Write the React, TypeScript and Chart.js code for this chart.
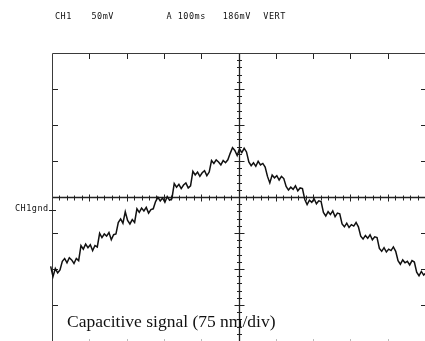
import React, { useEffect, useRef } from 'react';
import { Chart, registerables } from 'chart.js';

Chart.register(...registerables);

// ---- text content ----
const headerTexts = ['CH1', '50mV', 'A 100ms', '186mV', 'VERT'];
const groundLabel = 'CH1gnd';
const caption = 'Capacitive signal (75 nm/div)';

// ---- scope settings ----
const msPerDiv = 100;
const mvPerDiv = 50;
const horizDivs = 10;
const vertDivs = 8;

// ---- sampled trace (mV), one sample every sampleIntervalMs ----
const sampleStartMs = -512.5;
const sampleIntervalMs = 6.25;
const traceMv = [
  -106, -95, -109, -98, -104, -100,
  -88, -84, -90, -83, -86, -91, -84, -87,
  -66, -71, -64, -69, -65, -73, -66, -68,
  -49, -55, -50, -53, -48, -58, -51, -50,
  -34, -29, -35, -19, -31, -36, -30, -34,
  -15, -20, -14, -18, -13, -21, -16, -15,
  -5, 1, -4, 0, -6, 2, -3, -1,
  20, 15, 19, 13, 18, 21, 14, 17,
  37, 32, 36, 30, 35, 38, 31, 36,
  52, 48, 53, 50, 46, 52, 49, 53,
  62, 70, 66, 59, 68, 63, 69, 64,
  50, 45, 49, 44, 51, 46, 48, 43,
  30, 21, 32, 28, 31, 25, 30, 27,
  16, 11, 15, 12, 17, 10, 14, 13,
  -2, -9, -3, -6, -1, -8, -4, -5,
  -20, -25, -19, -23, -18, -26, -21, -22,
  -36, -40, -35, -41, -37, -39, -34, -40,
  -53, -57, -52, -56, -51, -58, -54, -55,
  -70, -74, -69, -75, -71, -73, -68, -74,
  -87, -92, -86, -90, -88, -93, -87, -89,
  -103, -108, -102, -107, -104,
];

const W = 425;
const H = 341;

const graticulePlugin = {
  id: 'graticule',
  beforeDatasetsDraw(chart: any) {
    const { ctx, scales } = chart;
    const xs = scales.x;
    const ys = scales.y;
    const halfX = (horizDivs / 2) * msPerDiv;
    const halfY = (vertDivs / 2) * mvPerDiv;
    const L = xs.getPixelForValue(-halfX);
    const R = xs.getPixelForValue(halfX);
    const T = ys.getPixelForValue(halfY);
    const B = ys.getPixelForValue(-halfY);
    const cx = xs.getPixelForValue(0);
    const cy = ys.getPixelForValue(0);
    ctx.save();
    ctx.lineCap = 'butt';
    // frame
    ctx.strokeStyle = '#3a3a3a';
    ctx.lineWidth = 1;
    ctx.beginPath();
    ctx.moveTo(Math.round(L) - 0.5, Math.round(B));
    ctx.lineTo(Math.round(L) - 0.5, Math.round(T) - 0.5);
    ctx.lineTo(Math.round(R), Math.round(T) - 0.5);
    ctx.lineTo(Math.round(R), Math.round(B));
    ctx.stroke();
    // border ticks
    ctx.strokeStyle = '#222';
    ctx.beginPath();
    for (let k = -horizDivs / 2 + 1; k < horizDivs / 2; k++) {
      const px = Math.round(xs.getPixelForValue(k * msPerDiv)) - 0.5;
      ctx.moveTo(px, T);
      ctx.lineTo(px, T + 5);
    }
    for (let k = -vertDivs / 2 + 1; k < vertDivs / 2; k++) {
      const py = Math.round(ys.getPixelForValue(k * mvPerDiv)) - 0.5;
      ctx.moveTo(L, py);
      ctx.lineTo(L + 5, py);
      ctx.moveTo(R, py);
      ctx.lineTo(R - 5, py);
    }
    ctx.stroke();
    // bottom ticks (barely inside the picture)
    ctx.strokeStyle = '#bbb';
    ctx.beginPath();
    for (let k = -horizDivs / 2 + 1; k < horizDivs / 2; k++) {
      if (k === 0) continue;
      const px = Math.round(xs.getPixelForValue(k * msPerDiv)) - 0.5;
      ctx.moveTo(px, B);
      ctx.lineTo(px, B - 3);
    }
    ctx.stroke();
    // center axes
    ctx.strokeStyle = '#222';
    ctx.lineWidth = 1.3;
    ctx.beginPath();
    ctx.moveTo(L, Math.round(cy) - 0.5);
    ctx.lineTo(R, Math.round(cy) - 0.5);
    ctx.moveTo(Math.round(cx) - 0.5, T);
    ctx.lineTo(Math.round(cx) - 0.5, B);
    ctx.stroke();
    ctx.lineWidth = 1;
    ctx.beginPath();
    const minorX = msPerDiv / 5;
    for (let v = -halfX + minorX; v < halfX; v += minorX) {
      const px = Math.round(xs.getPixelForValue(v)) - 0.5;
      const major = Math.abs(v / msPerDiv - Math.round(v / msPerDiv)) < 1e-6;
      const len = major ? 3.5 : 2.5;
      ctx.moveTo(px, cy - len);
      ctx.lineTo(px, cy + len);
    }
    const minorY = mvPerDiv / 5;
    for (let v = -halfY + minorY; v < halfY; v += minorY) {
      const py = Math.round(ys.getPixelForValue(v)) - 0.5;
      const major = Math.abs(v / mvPerDiv - Math.round(v / mvPerDiv)) < 1e-6;
      const len = major ? 5 : 2.5;
      ctx.moveTo(cx - len, py);
      ctx.lineTo(cx + len, py);
    }
    ctx.stroke();
    // ground marker
    const gy = Math.round(ys.getPixelForValue(-17.5)) - 0.5;
    ctx.beginPath();
    ctx.moveTo(L - 4, gy);
    ctx.lineTo(L + 3, gy);
    ctx.stroke();
    ctx.restore();
  },
};

export default function App() {
  const canvasRef = useRef<HTMLCanvasElement | null>(null);

  useEffect(() => {
    const canvas = canvasRef.current;
    if (!canvas) return;
    const points = traceMv.map((v, i) => ({ x: sampleStartMs + i * sampleIntervalMs, y: v }));
    const chart = new Chart(canvas, {
      type: 'line',
      data: {
        datasets: [
          {
            data: points,
            borderColor: '#111',
            borderWidth: 1.5,
            pointRadius: 0,
            tension: 0,
            fill: false,
            clip: false as any,
          } as any,
        ],
      },
      options: {
        animation: false,
        responsive: false,
        maintainAspectRatio: false,
        devicePixelRatio: 1,
        layout: { padding: { left: 53, top: 54, right: 0, bottom: 0 } },
        plugins: { legend: { display: false }, tooltip: { enabled: false }, title: { display: false } },
        scales: {
          x: { type: 'linear', min: -500, max: 497.3, display: false },
          y: { type: 'linear', min: -198.6, max: 200, display: false },
        },
      },
      plugins: [graticulePlugin],
    });
    return () => chart.destroy();
  }, []);

  const headerLeft = [55, 91.5, 166.5, 222.7, 263.3];
  const monoStyle: React.CSSProperties = {
    position: 'absolute',
    fontFamily: '"DejaVu Sans Mono", monospace',
    fontSize: '8.5px',
    letterSpacing: '0.5px',
    lineHeight: '10px',
    whiteSpace: 'pre',
    color: '#111',
  };

  return (
    <div style={{ position: 'absolute', left: 0, top: 0, width: W, height: H, background: '#fff', overflow: 'hidden' }}>
      <canvas ref={canvasRef} width={W} height={H} style={{ position: 'absolute', left: 0, top: 0, width: W, height: H }} />
      {headerTexts.map((t, i) => (
        <span key={t} style={{ ...monoStyle, left: headerLeft[i], top: 11 }}>{t}</span>
      ))}
      <span style={{ ...monoStyle, left: 15, top: 203 }}>{groundLabel}</span>
      <span
        style={{
          position: 'absolute',
          left: 67,
          top: 311.4,
          fontFamily: '"Liberation Serif", serif',
          fontSize: '17.5px',
          lineHeight: '20px',
          whiteSpace: 'pre',
          color: '#111',
        }}
      >
        {caption}
      </span>
    </div>
  );
}
